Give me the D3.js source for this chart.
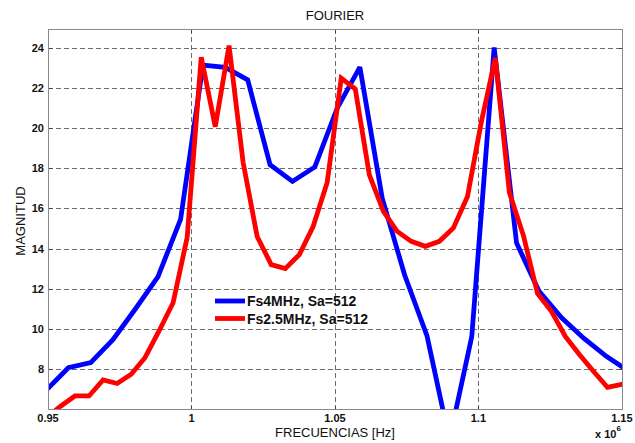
<!DOCTYPE html>
<html>
<head>
<meta charset="utf-8">
<script src="https://cdn.jsdelivr.net/npm/d3@7/dist/d3.min.js"></script>
<style>
  html, body { margin: 0; padding: 0; background: #ffffff; }
  svg { display: block; font-family: "Liberation Sans", Arial, sans-serif; }
</style>
</head>
<body>
<svg id="chart" width="635" height="443"></svg>
<script>
// Spectrum magnitude, 4 MHz sampling, 512 samples (frequencies in MHz)
const freqFs4 = [0.9493, 0.9571, 0.9649, 0.9727, 0.9805, 0.9883, 0.9962, 1.0040, 1.0118,
  1.0196, 1.0274, 1.0352, 1.0430, 1.0508, 1.0587, 1.0665, 1.0743, 1.0821, 1.0899, 1.0977,
  1.1055, 1.1133, 1.1211, 1.1290, 1.1368, 1.1446, 1.1524];
const magFs4 = [6.93, 8.06, 8.31, 9.47, 11.0, 12.59, 15.45, 23.15, 23.04,
  22.41, 18.18, 17.35, 18.07, 21.0, 23.05, 16.5, 12.68, 9.64, 4.45, 9.62,
  24.03, 14.28, 11.88, 10.55, 9.52, 8.63, 7.88];

// Spectrum magnitude, 2.5 MHz sampling, 512 samples
const freqFs25 = [0.9497, 0.9545, 0.9594, 0.9643, 0.9692, 0.9741, 0.9790, 0.9838, 0.9887,
  0.9936, 0.9985, 1.0034, 1.0083, 1.0131, 1.0180, 1.0229, 1.0278, 1.0327, 1.0376, 1.0424,
  1.0473, 1.0522, 1.0571, 1.0620, 1.0669, 1.0717, 1.0766, 1.0815, 1.0864, 1.0913, 1.0962,
  1.1010, 1.1059, 1.1108, 1.1157, 1.1206, 1.1255, 1.1303, 1.1352, 1.1401, 1.1450, 1.1499, 1.1548];
const magFs25 = [5.6, 6.15, 6.65, 6.65, 7.45, 7.27, 7.73, 8.56, 9.89,
  11.30, 14.55, 23.54, 20.08, 24.12, 18.3, 14.6, 13.2, 13.0, 13.7, 15.1,
  17.3, 22.5, 21.95, 17.68, 15.86, 14.86, 14.36, 14.11, 14.36, 15.03, 16.6,
  20.3, 23.5, 16.8, 14.65, 11.76, 10.86, 9.62, 8.72, 7.88, 7.08, 7.23, 7.28];

const seriesNames = ["Fs4MHz, Sa=512", "Fs2.5MHz, Sa=512"];
const seriesColors = ["#0000ff", "#ff0000"];
const xTicks = [0.95, 1, 1.05, 1.1, 1.15];
const xTickLabels = ["0.95", "1", "1.05", "1.1", "1.15"];
const yTicks = [8, 10, 12, 14, 16, 18, 20, 22, 24];

const svg = d3.select("#chart");
const plot = { left: 48, top: 29, right: 623, bottom: 410 };

const x = d3.scaleLinear().domain([0.95, 1.1504]).range([plot.left, plot.right]);
const y = d3.scaleLinear().domain([5.95, 24.95]).range([plot.bottom, plot.top]);

// plot background
svg.append("rect")
  .attr("x", plot.left).attr("y", plot.top)
  .attr("width", plot.right - plot.left).attr("height", plot.bottom - plot.top)
  .attr("fill", "#ffffff");

// dashed grid
const grid = svg.append("g").attr("stroke", "#6e6e6e").attr("stroke-width", 1)
  .attr("stroke-dasharray", "5,3").attr("shape-rendering", "crispEdges");
grid.selectAll("line.gx").data(xTicks).join("line")
  .attr("class", "gx")
  .attr("x1", d => Math.round(x(d)) + 0.5).attr("x2", d => Math.round(x(d)) + 0.5)
  .attr("y1", plot.top).attr("y2", plot.bottom);
grid.selectAll("line.gy").data(yTicks).join("line")
  .attr("class", "gy")
  .attr("x1", plot.left).attr("x2", plot.right)
  .attr("y1", d => Math.round(y(d)) + 0.5).attr("y2", d => Math.round(y(d)) + 0.5);

// inward tick marks on all four sides
const ticks = svg.append("g").attr("stroke", "#404040").attr("stroke-width", 1)
  .attr("shape-rendering", "crispEdges");
const tl = 4;
yTicks.forEach(v => {
  const yy = Math.round(y(v)) + 0.5;
  ticks.append("line").attr("x1", plot.left).attr("x2", plot.left + tl).attr("y1", yy).attr("y2", yy);
  ticks.append("line").attr("x1", plot.right - tl).attr("x2", plot.right).attr("y1", yy).attr("y2", yy);
});
xTicks.forEach(v => {
  const xx = Math.round(x(v)) + 0.5;
  ticks.append("line").attr("x1", xx).attr("x2", xx).attr("y1", plot.bottom - tl).attr("y2", plot.bottom);
  ticks.append("line").attr("x1", xx).attr("x2", xx).attr("y1", plot.top).attr("y2", plot.top + tl);
});

// clip region for the curves
svg.append("defs").append("clipPath").attr("id", "plotClip")
  .append("rect")
  .attr("x", plot.left).attr("y", plot.top)
  .attr("width", plot.right - plot.left).attr("height", plot.bottom - plot.top);

const line = d3.line().x(d => x(d[0])).y(d => y(d[1]));
const series = [
  d3.zip(freqFs4, magFs4),
  d3.zip(freqFs25, magFs25)
];

const curves = svg.append("g").attr("clip-path", "url(#plotClip)");
series.forEach((s, i) => {
  curves.append("path")
    .datum(s)
    .attr("d", line)
    .attr("fill", "none")
    .attr("stroke", seriesColors[i])
    .attr("stroke-width", 4.8)
    .attr("stroke-linejoin", "miter")
    .attr("stroke-miterlimit", 3);
});

// axes box
svg.append("rect")
  .attr("x", plot.left + 0.5).attr("y", plot.top + 0.5)
  .attr("width", plot.right - plot.left - 1).attr("height", plot.bottom - plot.top - 1)
  .attr("fill", "none").attr("stroke", "#8a8a8a").attr("stroke-width", 1)
  .attr("shape-rendering", "crispEdges");

// tick labels
svg.append("g").selectAll("text").data(yTicks).join("text")
  .attr("x", plot.left - 4).attr("y", d => y(d) + 4)
  .attr("text-anchor", "end")
  .attr("font-size", 11).attr("font-weight", "bold").attr("fill", "#111")
  .text(d => d);

svg.append("g").selectAll("text").data(xTicks).join("text")
  .attr("x", d => x(d)).attr("y", 422)
  .attr("text-anchor", "middle")
  .attr("font-size", 11).attr("font-weight", "bold").attr("fill", "#111")
  .text((d, i) => xTickLabels[i]);

// exponent marker
const expo = svg.append("text").attr("x", 595).attr("y", 438)
  .attr("font-size", 11).attr("font-weight", "bold").attr("fill", "#111");
expo.append("tspan").text("x 10");
expo.append("tspan").attr("font-size", 8).attr("dy", -7).text("6");

// titles
svg.append("text").attr("x", 335).attr("y", 20).attr("text-anchor", "middle")
  .attr("font-size", 13).attr("fill", "#111").text("FOURIER");
svg.append("text").attr("x", 335).attr("y", 437).attr("text-anchor", "middle")
  .attr("font-size", 13).attr("fill", "#111").text("FRECUENCIAS [Hz]");
svg.append("text").attr("transform", "translate(25,221) rotate(-90)")
  .attr("text-anchor", "middle")
  .attr("font-size", 13).attr("fill", "#111").text("MAGNITUD");

// legend
const legend = svg.append("g").attr("transform", "translate(215,301)");
seriesNames.forEach((name, i) => {
  const g = legend.append("g").attr("transform", `translate(0,${i * 17.5})`);
  g.append("line").attr("x1", 0).attr("x2", 30).attr("y1", 0).attr("y2", 0)
    .attr("stroke", seriesColors[i]).attr("stroke-width", 4.8);
  g.append("text").attr("x", 32).attr("y", 5)
    .attr("font-size", 14).attr("font-weight", "bold").attr("fill", "#111")
    .text(name);
});
</script>
</body>
</html>
